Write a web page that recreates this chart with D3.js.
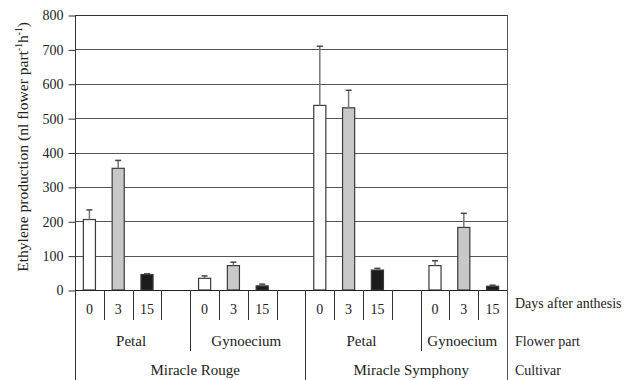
<!DOCTYPE html>
<html>
<head>
<meta charset="utf-8">
<script src="https://cdn.jsdelivr.net/npm/d3@7"></script>
<style>
  html, body { margin: 0; padding: 0; background: #fff; }
  svg { display: block; }
  text { font-family: "Liberation Serif", "Times New Roman", serif; fill: #222; }
</style>
</head>
<body>
<svg id="chart" width="632" height="380"></svg>
<script>
// Ethylene production by cultivar, flower part and days after anthesis
const cultivars = ["Miracle Rouge", "Miracle Symphony"];
const flowerParts = ["Petal", "Gynoecium"];
const days = ["0", "3", "15"];
const yTicks = [0, 100, 200, 300, 400, 500, 600, 700, 800];

// mean values (nl flower part-1 h-1) and upper error, in the order of days
const rougePetal = [205, 354, 45];
const rougePetalErr = [28, 23, 2];
const rougeGynoecium = [34, 71, 12];
const rougeGynoeciumErr = [7, 10, 5];
const symphonyPetal = [537, 530, 58];
const symphonyPetalErr = [172, 51, 5];
const symphonyGynoecium = [71, 182, 11];
const symphonyGynoeciumErr = [14, 41, 3];

const seriesValues = [
  [rougePetal, rougeGynoecium],
  [symphonyPetal, symphonyGynoecium]
];
const seriesErrors = [
  [rougePetalErr, rougeGynoeciumErr],
  [symphonyPetalErr, symphonyGynoeciumErr]
];
const dayFills = ["#ffffff", "#c8c8c8", "#1c1c1c"];

(function draw() {
  // Build the slots along the x axis: three days per flower part, then a spacer slot
  const slots = [];
  cultivars.forEach((c, ci) => {
    flowerParts.forEach((p, pi) => {
      days.forEach((d, di) => {
        slots.push({ key: `${ci}-${pi}-${di}`, cultivar: ci, part: pi, day: di, label: d,
                     value: seriesValues[ci][pi][di], err: seriesErrors[ci][pi][di] });
      });
      const last = ci === cultivars.length - 1 && pi === flowerParts.length - 1;
      if (!last) slots.push({ key: `${ci}-${pi}-gap`, cultivar: ci, part: pi, spacer: true });
    });
  });

  const mLeft = 75, mRight = 507, mTop = 15, base = 290, mBottom = 380;
  const svg = d3.select("#chart");

  const x = d3.scaleBand().domain(slots.map(s => s.key)).range([mLeft, mRight]).padding(0);
  const y = d3.scaleLinear().domain([0, 800]).range([base, mTop]);
  const bw = x.bandwidth() * 0.42;

  // horizontal grid lines
  svg.append("g").selectAll("line").data(yTicks.filter(t => t > 0)).join("line")
    .attr("x1", mLeft).attr("x2", mRight)
    .attr("y1", d => Math.round(y(d)) + 0.5).attr("y2", d => Math.round(y(d)) + 0.5)
    .attr("stroke", d => d === 800 ? "#333" : "#555").attr("stroke-width", 1);

  // right frame line, continued down through the category table
  svg.append("line").attr("x1", mRight + 0.5).attr("x2", mRight + 0.5)
    .attr("y1", mTop).attr("y2", mBottom).attr("stroke", "#555");

  // y axis
  const yAxis = d3.axisLeft(y).tickValues(yTicks).tickSize(7).tickPadding(5);
  const gy = svg.append("g").attr("transform", `translate(${mLeft + 0.5},0.5)`).call(yAxis);
  gy.select(".domain").remove();
  gy.selectAll(".tick line").attr("stroke", "#333");
  gy.selectAll(".tick text").attr("font-size", 14).attr("font-family", "Liberation Serif, serif").attr("fill", "#222");
  svg.append("line").attr("x1", mLeft + 0.5).attr("x2", mLeft + 0.5)
    .attr("y1", mTop).attr("y2", mBottom).attr("stroke", "#333");

  // y axis title
  const title = svg.append("text")
    .attr("transform", `translate(28,147) rotate(-90)`)
    .attr("text-anchor", "middle").attr("font-size", 15.6);
  title.append("tspan").text("Ethylene production (nl flower part");
  title.append("tspan").text("-1").attr("font-size", 9.5).attr("dy", -6);
  title.append("tspan").text("h").attr("dy", 6);
  title.append("tspan").text("-1").attr("font-size", 9.5).attr("dy", -6);
  title.append("tspan").text(")").attr("dy", 6);

  // bars
  const barSlots = slots.filter(s => !s.spacer);
  svg.append("g").selectAll("rect").data(barSlots).join("rect")
    .attr("x", d => x(d.key) + (x.bandwidth() - bw) / 2)
    .attr("width", bw)
    .attr("y", d => y(d.value))
    .attr("height", d => base - y(d.value))
    .attr("fill", d => dayFills[d.day])
    .attr("stroke", "#3a3a3a").attr("stroke-width", 1.2);

  // error bars (upper only)
  const eb = svg.append("g").selectAll("g").data(barSlots).join("g");
  eb.append("line")
    .attr("x1", d => x(d.key) + x.bandwidth() / 2).attr("x2", d => x(d.key) + x.bandwidth() / 2)
    .attr("y1", d => y(d.value)).attr("y2", d => y(d.value + d.err))
    .attr("stroke", "#777").attr("stroke-width", 1.5);
  eb.append("line")
    .attr("x1", d => x(d.key) + x.bandwidth() / 2 - 3).attr("x2", d => x(d.key) + x.bandwidth() / 2 + 3)
    .attr("y1", d => y(d.value + d.err)).attr("y2", d => y(d.value + d.err))
    .attr("stroke", "#444").attr("stroke-width", 1.5);

  // baseline
  svg.append("line").attr("x1", mLeft).attr("x2", mRight)
    .attr("y1", base + 0.5).attr("y2", base + 0.5).attr("stroke", "#222").attr("stroke-width", 1.2);

  // category table below the axis
  const rowDay = 309, rowPart = 341, rowCult = 370;
  const boundaries = slots.slice(1).map((s, i) => ({ xPos: x(s.key), s, prev: slots[i] }));
  svg.append("g").selectAll("line").data(boundaries).join("line")
    .attr("x1", d => Math.round(d.xPos) + 0.5).attr("x2", d => Math.round(d.xPos) + 0.5)
    .attr("y1", base)
    .attr("y2", d => {
      if (d.prev.cultivar !== d.s.cultivar) return mBottom;
      if (d.prev.part !== d.s.part) return 351;
      return 320;
    })
    .attr("stroke", "#333");

  svg.append("g").selectAll("text").data(barSlots).join("text")
    .attr("x", d => x(d.key) + x.bandwidth() / 2).attr("y", rowDay).attr("dy", "0.35em")
    .attr("text-anchor", "middle").attr("font-size", 14).text(d => d.label);

  // flower part labels, centred over their slots
  const partGroups = d3.groups(slots, s => `${s.cultivar}-${s.part}`).map(([k, arr]) => ({
    label: flowerParts[arr[0].part],
    x0: x(arr[0].key), x1: x(arr[arr.length - 1].key) + x.bandwidth()
  }));
  svg.append("g").selectAll("text").data(partGroups).join("text")
    .attr("x", d => (d.x0 + d.x1) / 2 - 1.5).attr("y", rowPart).attr("dy", "0.35em")
    .attr("text-anchor", "middle").attr("font-size", 15).text(d => d.label);

  // cultivar labels
  const cultGroups = d3.groups(slots, s => s.cultivar).map(([k, arr]) => ({
    label: cultivars[k],
    x0: x(arr[0].key), x1: x(arr[arr.length - 1].key) + x.bandwidth()
  }));
  svg.append("g").selectAll("text").data(cultGroups).join("text")
    .attr("x", d => (d.x0 + d.x1) / 2 + 5).attr("y", rowCult).attr("dy", "0.35em")
    .attr("text-anchor", "middle").attr("font-size", 15).text(d => d.label);

  // row captions on the right
  const rowNames = ["Days after anthesis", "Flower part", "Cultivar"];
  svg.append("g").selectAll("text").data(rowNames).join("text")
    .attr("x", 515).attr("y", (d, i) => [rowDay - 6, rowPart, rowCult][i]).attr("dy", "0.35em")
    .attr("font-size", 14).text(d => d);
})();
</script>
</body>
</html>
